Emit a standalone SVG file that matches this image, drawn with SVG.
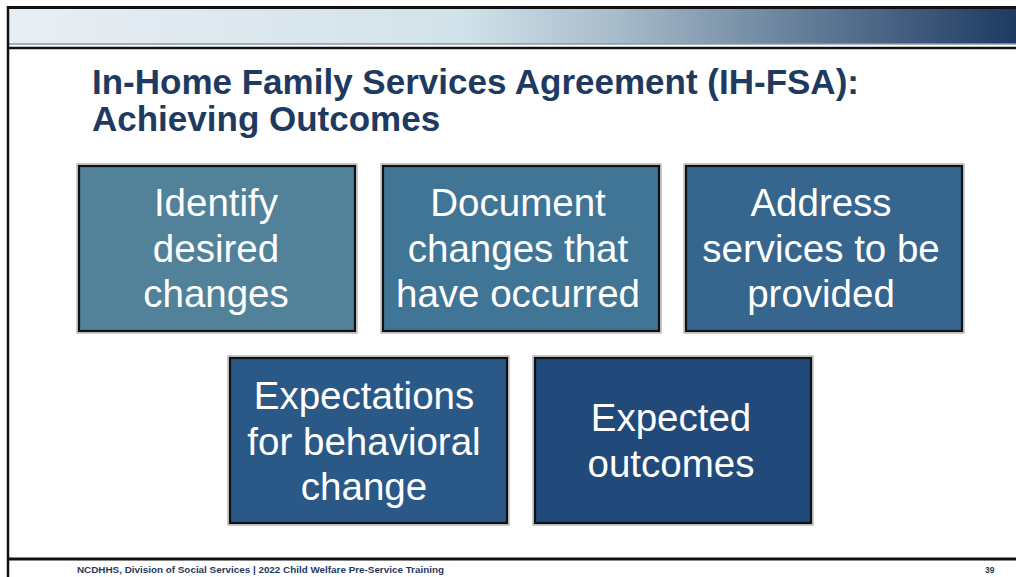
<svg xmlns="http://www.w3.org/2000/svg" width="1016" height="577" viewBox="0 0 1016 577">
<defs>
<linearGradient id="band" x1="0" y1="0" x2="1" y2="0">
<stop offset="0" stop-color="#e8eef4"/>
<stop offset="0.45" stop-color="#d2e2ea"/>
<stop offset="0.6" stop-color="#a9bccb"/>
<stop offset="0.8" stop-color="#607a96"/>
<stop offset="1" stop-color="#1e3a62"/>
</linearGradient>
<style>
.box{stroke:#111;stroke-width:2.2}
.halo{fill:none;stroke:#9a9a9a;stroke-width:1}
.lbl{font-family:"Liberation Sans",Arial,sans-serif;font-size:38.5px;fill:#fff;text-anchor:middle}
.title{font-family:"Liberation Sans",Arial,sans-serif;font-size:35px;font-weight:bold;fill:#1f3a60}
.foot{font-family:"Liberation Sans",Arial,sans-serif;font-size:8.5px;font-weight:bold;fill:#1f3a60}
</style>
</defs>
<rect width="1016" height="577" fill="#fff"/>
<g id="frame">
<rect x="9" y="9" width="1007" height="35" fill="url(#band)"/>
<line x1="9" y1="44" x2="1016" y2="44" stroke="#8a9aaa" stroke-width="1.5"/>
<line x1="7" y1="7.5" x2="1016" y2="7.5" stroke="#111" stroke-width="3"/>
<line x1="8" y1="48" x2="1016" y2="48" stroke="#111" stroke-width="2.5"/>
<line x1="8" y1="6" x2="8" y2="577" stroke="#111" stroke-width="2.5"/>
<line x1="8" y1="559" x2="1016" y2="559" stroke="#111" stroke-width="3"/>
</g>
<g id="title">
<text class="title" x="92" y="94">In-Home Family Services Agreement (IH-FSA):</text>
<text class="title" x="92" y="131">Achieving Outcomes</text>
</g>
<g id="connectors"></g>
<g id="node1">
<rect class="halo" x="77" y="164" width="280" height="169"/>
<rect class="box" x="79" y="166" width="276" height="165" fill="#52829a"/>
<text class="lbl" x="216" y="216">Identify</text>
<text class="lbl" x="216" y="261.5">desired</text>
<text class="lbl" x="216" y="307">changes</text>
</g>
<g id="node2">
<rect class="halo" x="381" y="164" width="280" height="169"/>
<rect class="box" x="383" y="166" width="276" height="165" fill="#417595"/>
<text class="lbl" x="518" y="216">Document</text>
<text class="lbl" x="518" y="261.5">changes that</text>
<text class="lbl" x="518" y="307">have occurred</text>
</g>
<g id="node3">
<rect class="halo" x="684" y="164" width="280" height="169"/>
<rect class="box" x="686" y="166" width="276" height="165" fill="#36668d"/>
<text class="lbl" x="821" y="216">Address</text>
<text class="lbl" x="821" y="261.5">services to be</text>
<text class="lbl" x="821" y="307">provided</text>
</g>
<g id="node4">
<rect class="halo" x="228" y="356" width="281" height="169"/>
<rect class="box" x="230" y="358" width="277" height="165" fill="#2b5987"/>
<text class="lbl" x="364" y="409">Expectations</text>
<text class="lbl" x="364" y="454.5">for behavioral</text>
<text class="lbl" x="364" y="500">change</text>
</g>
<g id="node5">
<rect class="halo" x="533" y="356" width="280" height="169"/>
<rect class="box" x="535" y="358" width="276" height="165" fill="#21497a"/>
<text class="lbl" x="671" y="431">Expected</text>
<text class="lbl" x="671" y="476.5">outcomes</text>
</g>
<g id="footer">
<text class="foot" x="77" y="573" textLength="367" lengthAdjust="spacingAndGlyphs">NCDHHS, Division of Social Services | 2022 Child Welfare Pre-Service Training</text>
<text class="foot" x="985" y="573">39</text>
</g>
</svg>
